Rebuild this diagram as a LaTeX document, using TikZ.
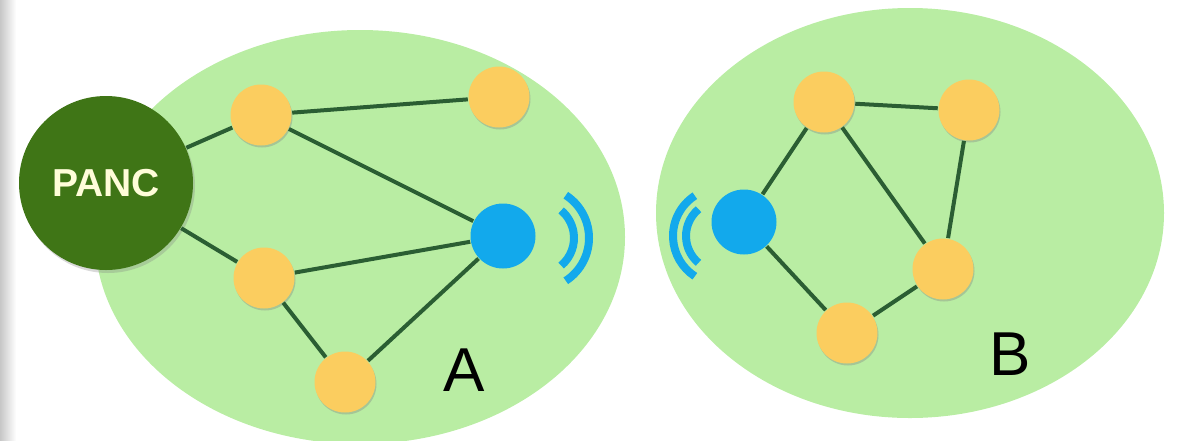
\documentclass[tikz,border=0pt]{standalone}
\usepackage{fontspec}
\setmainfont{Liberation Sans}
\usepackage{tikz}
\usetikzlibrary{calc,shadows}

\definecolor{zonegreen}{HTML}{B9EDA3}
\definecolor{pancgreen}{HTML}{3F7516}
\definecolor{nodeyellow}{HTML}{FBCD5F}
\definecolor{relayblue}{HTML}{12A9EC}
\definecolor{linkgreen}{HTML}{2B5E33}

\begin{document}
\begin{tikzpicture}[x=0.5pt,y=-0.5pt,thick,
  dev/.style={circle,fill=nodeyellow,minimum size=30.5pt,inner sep=0pt,
    drop shadow={shadow xshift=0.5pt,shadow yshift=-1pt,opacity=0.35}},
  relay/.style={circle,fill=relayblue,minimum size=32.5pt,inner sep=0pt},
  link/.style={draw=linkgreen,line width=2pt},
  wave/.style={draw=relayblue,line width=4pt}]
\useasboundingbox (0,0) rectangle (1183,440);
\shade[left color=black!22,right color=white] (0,0) rectangle (16,440);

% the two networks
\fill[zonegreen] (360,237) ellipse [x radius=132.5pt,y radius=103.5pt];
\fill[zonegreen] (910,213) ellipse [x radius=127pt,y radius=102.5pt];

\node (panc) [circle,fill=pancgreen,minimum size=87pt,inner sep=0pt,
  drop shadow={shadow xshift=1pt,shadow yshift=-1.5pt,opacity=0.3},
  text=white!85!yellow,font=\bfseries\fontsize{19.5}{20}\selectfont] at (106,183) {PANC};

% network A
\node (a1) [dev] at (261,115) {};
\node (a2) [dev] at (499,97) {};
\node (a3) [dev] at (264,278) {};
\node (a4) [dev] at (345,382) {};
\node (ra) [relay] at (503,236) {};
\draw[link] (panc) -- (a1);
\draw[link] (panc) -- (a3);
\draw[link] (a1) -- (a2);
\draw[link] (a1) -- (ra);
\draw[link] (a3) -- (ra);
\draw[link] (a3) -- (a4);
\draw[link] (a4) -- (ra);

% network B
\node (b1) [dev] at (824,102) {};
\node (b2) [dev] at (969,110) {};
\node (b3) [dev] at (943,269) {};
\node (b4) [dev] at (847,333) {};
\node (rb) [relay] at (744,222) {};
\draw[link] (rb) -- (b1);
\draw[link] (b1) -- (b2);
\draw[link] (b1) -- (b3);
\draw[link] (b2) -- (b3);
\draw[link] (b3) -- (b4);
\draw[link] (b4) -- (rb);

% radio waves
\coordinate (sa) at (538,238);
\coordinate (sb) at (721,236);
\draw[wave] (sa) ++(-50:18pt) arc[start angle=-50,end angle=50,radius=18pt];
\draw[wave] (sa) ++(-57:25.5pt) arc[start angle=-57,end angle=57,radius=25.5pt];
\draw[wave] (sb) ++(130:17.5pt) arc[start angle=130,end angle=230,radius=17.5pt];
\draw[wave] (sb) ++(123:24pt) arc[start angle=123,end angle=237,radius=24pt];

\node (la) [font=\fontsize{31}{32}\selectfont] at (464,370) {A};
\node (lb) [font=\fontsize{31}{32}\selectfont] at (1010,354) {B};
\end{tikzpicture}
\end{document}
